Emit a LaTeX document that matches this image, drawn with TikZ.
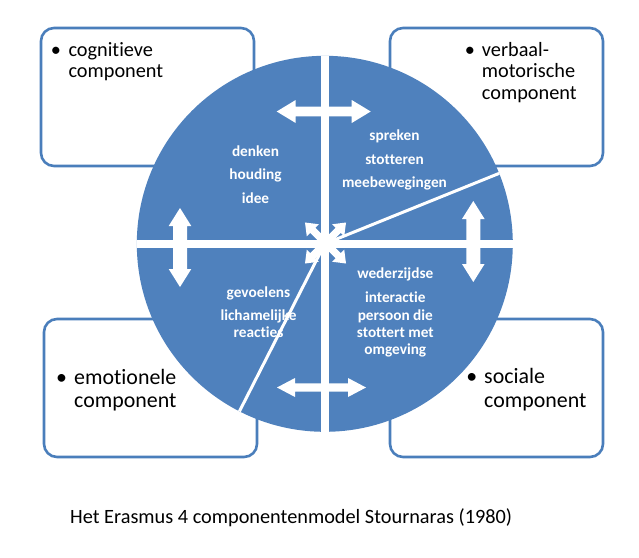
\documentclass[tikz,border=0pt]{standalone}
\usepackage{fontspec}
\setmainfont{Carlito}[Ligatures={NoCommon}]
\definecolor{wheelblue}{HTML}{4F81BD}
\definecolor{boxblue}{HTML}{4A7EBB}
\tikzset{
  compbox/.style={draw=boxblue, line width=2.6pt, rounded corners=13pt, fill=white, inner sep=0pt},
  boxtxt/.style={inner sep=0pt, anchor=base west, font=\fontsize{20.3}{22}\selectfont},
  boxtxtb/.style={inner sep=0pt, anchor=base west, font=\fontsize{21.9}{24}\selectfont},
  bul/.style={inner sep=0pt, anchor=base},
  wtxt/.style={inner sep=0pt, anchor=base, text=white, font=\fontsize{15.3}{18}\selectfont\bfseries},
  gapline/.style={draw=white, line width=8.5pt},
  slitline/.style={draw=white, line width=3pt},
  pics/dblarrow/.style n args={4}{%
    code={\fill[white] (-#1,0) -- (-#1+#4,-#3) -- (-#1+#4,-#2) -- (#1-#4,-#2) -- (#1-#4,-#3) -- (#1,0)
      -- (#1-#4,#3) -- (#1-#4,#2) -- (-#1+#4,#2) -- (-#1+#4,#3) -- cycle;}}
}
\begin{document}
\begin{tikzpicture}[x=1pt,y=-1pt]
\useasboundingbox (0,0) rectangle (639,557);
% component boxes
\node[compbox, minimum width=213pt, minimum height=138pt] (boxTL) at (147.5,97) {};
\node[compbox, minimum width=213pt, minimum height=138pt] (boxTR) at (496.5,97) {};
\node[compbox, minimum width=213pt, minimum height=138pt] (boxBL) at (150.5,388) {};
\node[compbox, minimum width=213pt, minimum height=138pt] (boxBR) at (496.5,388) {};
% wheel
\node[circle, fill=wheelblue, minimum size=376pt, inner sep=0pt] (wheel) at (324.8,243.8) {};
\begin{scope}
  \clip (324.8,243.8) circle (188pt);
  \draw[gapline] ([yshift=20pt]wheel.north) -- ([yshift=-20pt]wheel.south);
  \draw[gapline] ([xshift=-20pt]wheel.west) -- ([xshift=20pt]wheel.east);
  \draw[slitline] (wheel.center) -- (wheel.22.5);
  \draw[slitline] (wheel.center) -- (wheel.243.5);
\end{scope}
% arrows
\pic at (323.7,111.5) {dblarrow={47}{4.8}{11.5}{19}};
\pic at (321.5,387.5) {dblarrow={44.5}{4.2}{9.5}{18}};
\pic[rotate=90] at (180,247.5) {dblarrow={39.5}{7}{11.3}{18}};
\pic[rotate=90] at (473.3,241.5) {dblarrow={40.5}{7}{11.3}{18}};
\pic[rotate=45] at (325.5,243) {dblarrow={29}{3.6}{8.5}{11}};
\pic[rotate=-45] at (325.5,243) {dblarrow={29}{3.6}{8.5}{11}};
% wheel texts
\node[wtxt] (t1) at (255.5,156) {denken};
\node[wtxt] (t2) at (255.5,179.5) {houding};
\node[wtxt] (t3) at (255.5,203) {idee};
\node[wtxt] (t4) at (394.5,140) {spreken};
\node[wtxt] (t5) at (394.5,164) {stotteren};
\node[wtxt] (t6) at (394.5,187) {meebewegingen};
\node[wtxt] (t7) at (258.5,297) {gevoelens};
\node[wtxt] (t8) at (258.5,320) {lichamelijke};
\node[wtxt] (t9) at (258.5,337) {reacties};
\node[wtxt] (t10) at (395.3,278) {wederzijdse};
\node[wtxt] (t11) at (395.3,302) {interactie};
\node[wtxt] (t12) at (395.3,320) {persoon die};
\node[wtxt] (t13) at (395.3,337) {stottert met};
\node[wtxt] (t14) at (395.3,354) {omgeving};
% box texts
\node[bul, font=\fontsize{20.3}{22}\selectfont] (b1) at (56,56) {\textbullet};
\node[boxtxt] (c1) at (68.3,56) {cognitieve};
\node[boxtxt] (c2) at (68.3,77.7) {component};
\node[bul, font=\fontsize{20.3}{22}\selectfont] (b2) at (470,56) {\textbullet};
\node[boxtxt] (v1) at (481.7,56) {verbaal-};
\node[boxtxt] (v2) at (481.7,77.7) {motorische};
\node[boxtxt] (v3) at (481.7,99.4) {component};
\node[bul, font=\fontsize{21.9}{24}\selectfont] (b3) at (61.7,384) {\textbullet};
\node[boxtxtb] (e1) at (74,384) {emotionele};
\node[boxtxtb] (e2) at (74,407.7) {component};
\node[bul, font=\fontsize{21.9}{24}\selectfont] (b4) at (471.7,383.5) {\textbullet};
\node[boxtxtb] (s1) at (484,383.5) {sociale};
\node[boxtxtb] (s2) at (484,407.5) {component};
% caption
\node[inner sep=0pt, anchor=base west, font=\fontsize{20.3}{24}\selectfont] (cap) at (70,523.3) {Het Erasmus 4 componentenmodel Stournaras (1980)};
\end{tikzpicture}
\end{document}
